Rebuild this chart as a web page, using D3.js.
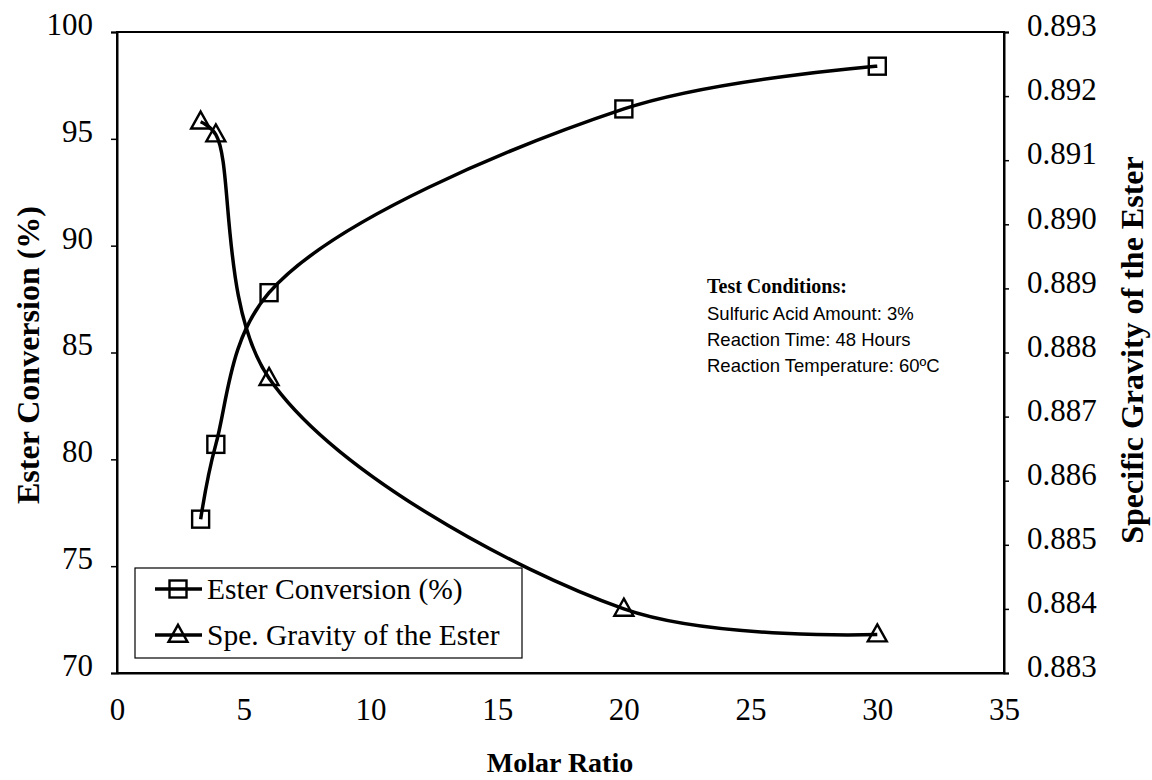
<!DOCTYPE html>
<html>
<head>
<meta charset="utf-8">
<script src="https://cdn.jsdelivr.net/npm/d3@7"></script>
<style>
  html, body { margin: 0; padding: 0; background: #fff; }
  svg { display: block; }
</style>
</head>
<body>
<svg id="chart" width="1152" height="780"></svg>
<script>
// ---- Data ----
const molarRatio      = [3.3, 3.9, 6, 20, 30];
const esterConversion = [77.2, 80.7, 87.8, 96.4, 98.4];
const specificGravity = [0.8916, 0.8914, 0.8876, 0.8840, 0.8836];

const xTicks      = [0, 5, 10, 15, 20, 25, 30, 35];
const yLeftTicks  = [70, 75, 80, 85, 90, 95, 100];
const yRightTicks = [0.883, 0.884, 0.885, 0.886, 0.887, 0.888, 0.889, 0.890, 0.891, 0.892, 0.893];

const legendLabels = ["Ester Conversion (%)", "Spe. Gravity of the Ester"];
const noteTitle = "Test Conditions:";
const noteLines = ["Sulfuric Acid Amount: 3%", "Reaction Time: 48 Hours", "Reaction Temperature: 60\u00BAC"];

// ---- Layout ----
const svg = d3.select("#chart");
const L = 117, R = 1004, T = 32, B = 673;
const serif = "'Liberation Serif', 'Times New Roman', serif";

const x  = d3.scaleLinear().domain([0, 35]).range([L, R]);
const yL = d3.scaleLinear().domain([70, 100]).range([B, T]);
const yR = d3.scaleLinear().domain([0.883, 0.893]).range([B, T]);

// Plot frame
svg.append("rect").attr("x", L).attr("y", T).attr("width", R - L).attr("height", B - T)
  .attr("fill", "none").attr("stroke", "#000").attr("stroke-width", 2);

// Left axis
const gL = svg.append("g").attr("transform", `translate(${L},0)`)
  .call(d3.axisLeft(yL).tickValues(yLeftTicks).tickSize(6).tickPadding(18).tickFormat(d3.format("d")));
// Right axis
const gR = svg.append("g").attr("transform", `translate(${R},0)`)
  .call(d3.axisRight(yR).tickValues(yRightTicks).tickSize(5).tickPadding(18).tickFormat(d3.format(".3f")));
// Bottom axis
const gB = svg.append("g").attr("transform", `translate(0,${B})`)
  .call(d3.axisBottom(x).tickValues(xTicks).tickSize(0).tickPadding(25).tickFormat(d3.format("d")));

[gL, gR, gB].forEach(g => {
  g.select(".domain").attr("stroke", "#000").attr("stroke-width", 2);
  g.selectAll(".tick line").attr("stroke", "#000").attr("stroke-width", 1.5);
  g.selectAll(".tick text").attr("fill", "#000").style("font-family", serif).style("font-size", "31px");
});
gL.selectAll(".tick text").attr("dy", "0.08em");
gR.selectAll(".tick text").attr("dy", "0.12em");

// Axis titles
svg.append("text").attr("x", 560).attr("y", 772).attr("text-anchor", "middle")
  .style("font-family", serif).style("font-size", "28px").style("font-weight", "bold")
  .text("Molar Ratio");
svg.append("text").attr("transform", `translate(39,355) rotate(-90)`).attr("text-anchor", "middle")
  .style("font-family", serif).style("font-size", "32px").style("font-weight", "bold")
  .text("Ester Conversion (%)");
svg.append("text").attr("transform", `translate(1143,350) rotate(-90)`).attr("text-anchor", "middle")
  .style("font-family", serif).style("font-size", "32px").style("font-weight", "bold")
  .text("Specific Gravity of the Ester");

// Lines
const curve = d3.curveCatmullRom.alpha(0.5);
const convPts = molarRatio.map((m, i) => [x(m), yL(esterConversion[i])]);
const sgPts   = molarRatio.map((m, i) => [x(m), yR(specificGravity[i])]);
const line = d3.line().curve(curve);

svg.append("path").attr("d", line(convPts)).attr("fill", "none")
  .attr("stroke", "#000").attr("stroke-width", 3.5).attr("stroke-linejoin", "round");
svg.append("path").attr("d", line(sgPts)).attr("fill", "none")
  .attr("stroke", "#000").attr("stroke-width", 3.5).attr("stroke-linejoin", "round");

// Markers
const sq = 17;
function square(g, cx, cy) {
  g.append("rect").attr("x", cx - sq / 2).attr("y", cy - sq / 2).attr("width", sq).attr("height", sq)
    .attr("fill", "none").attr("stroke", "#000").attr("stroke-width", 2.4);
}
function triangle(g, cx, cy) {
  const w = 19, h = 17;
  g.append("path").attr("d", `M${cx},${cy - h * 0.6}L${cx + w / 2},${cy + h * 0.4}L${cx - w / 2},${cy + h * 0.4}Z`)
    .attr("fill", "none").attr("stroke", "#000").attr("stroke-width", 2.4).attr("stroke-linejoin", "miter");
}
const gm = svg.append("g");
convPts.forEach(p => square(gm, p[0], p[1]));
sgPts.forEach(p => triangle(gm, p[0], p[1]));

// Legend
const lg = svg.append("g");
lg.append("rect").attr("x", 135).attr("y", 568).attr("width", 387).attr("height", 90)
  .attr("fill", "#fff").attr("stroke", "#000").attr("stroke-width", 1.2);
const rowsY = [589, 635];
legendLabels.forEach((lab, i) => {
  lg.append("line").attr("x1", 155).attr("x2", 202).attr("y1", rowsY[i]).attr("y2", rowsY[i])
    .attr("stroke", "#000").attr("stroke-width", 3.5);
  if (i === 0) square(lg, 178, rowsY[i]); else triangle(lg, 178, rowsY[i]);
  lg.append("text").attr("x", 207).attr("y", rowsY[i]).attr("dy", "0.33em")
    .style("font-family", serif).style("font-size", "29.5px").text(lab);
});

// Annotation
const note = svg.append("g");
note.append("text").attr("x", 707).attr("y", 293)
  .style("font-family", serif).style("font-size", "20px").style("font-weight", "bold").text(noteTitle);
noteLines.forEach((t, i) => {
  note.append("text").attr("x", 707).attr("y", 320 + i * 26)
    .style("font-family", "'Liberation Sans', Arial, sans-serif").style("font-size", "18.5px").text(t);
});
</script>
</body>
</html>
